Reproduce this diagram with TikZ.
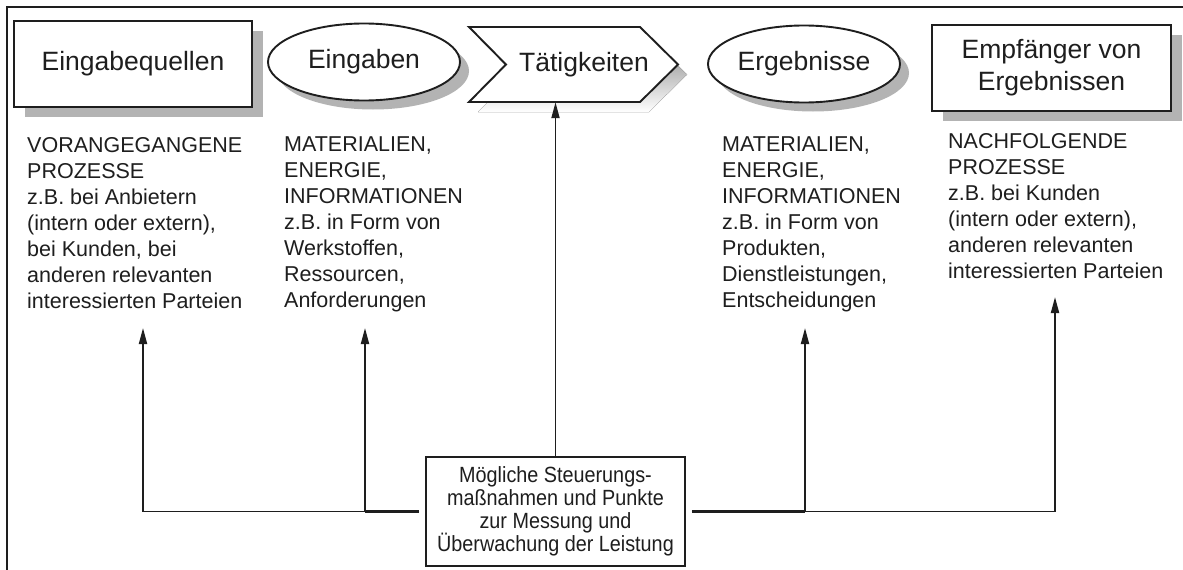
\documentclass[tikz,border=0pt]{standalone}
\usepackage{fontspec}
\setmainfont{Liberation Sans}
\newfontfamily\narrowsans[FakeStretch=0.9]{Liberation Sans}
\usetikzlibrary{shapes.geometric,shadows,arrows.meta}
\definecolor{ink}{HTML}{1E1E1E}
\definecolor{shade}{HTML}{B3B3B3}
\begin{document}
\begin{tikzpicture}[x=1pt,y=-1pt,
  every node/.style={text=ink},
  boxshape/.style={draw=ink, line width=1.9pt, fill=white, inner sep=0pt,
    general shadow={fill=shade, shadow xshift=11pt, shadow yshift=-10pt}},
  ovalshape/.style={ellipse, draw=ink, line width=1.9pt, fill=white, inner sep=0pt,
    minimum width=192pt, minimum height=77pt,
    general shadow={fill=shade, shadow xshift=9pt, shadow yshift=-9pt}},
  headfont/.style={font=\fontsize{26.5}{32}\selectfont},
  bodytext/.style={anchor=north west, inner sep=0pt, align=left,
    font=\fontsize{21.5}{26}\selectfont},
  conn/.style={draw=ink, line width=1.9pt},
  arr/.style={conn, -{Triangle[length=16pt,width=8pt]}},
]
\useasboundingbox (0,0) rectangle (1183,570);
\fill[white] (0,0) rectangle (1183,570);
% frame
\draw[ink, line width=2.2pt] (7,570) -- (7,7) -- (1183,7);

% process chain
\node[boxshape, headfont, minimum width=238pt, minimum height=86pt] (src) at (133,64) {Eingabequellen};
\node[ovalshape, headfont] (inp) at (364,62) {Eingaben};

\begin{scope}[shift={(9,10)}]
  \fill[shade] (469,27) -- (640,27) -- (678,64.5) -- (640,102) -- (469,102) -- (506,64.5) -- cycle;
\end{scope}
\draw[ink, line width=1.9pt, fill=white, line join=miter]
  (469,27) -- (640,27) -- (678,64.5) -- (640,102) -- (469,102) -- (506,64.5) -- cycle;
\node[headfont, minimum height=75pt, inner sep=0pt] (act) at (584,64.5) {Tätigkeiten};

\node[ovalshape, headfont] (out) at (804,64) {Ergebnisse};
\node[boxshape, headfont, minimum width=239pt, minimum height=86pt, align=center] (dst) at (1051.5,68) {Empfänger von\\Ergebnissen};

% descriptions
\node[bodytext] (srcnote) at (27,137) {VORANGEGANGENE\\PROZESSE\\z.B. bei Anbietern\\(intern oder extern),\\bei Kunden, bei\\anderen relevanten\\interessierten Parteien};
\node[bodytext] (inpnote) at (284,137) {MATERIALIEN,\\ENERGIE,\\INFORMATIONEN\\z.B. in Form von\\Werkstoffen,\\Ressourcen,\\Anforderungen};
\node[bodytext] (outnote) at (722,137) {MATERIALIEN,\\ENERGIE,\\INFORMATIONEN\\z.B. in Form von\\Produkten,\\Dienstleistungen,\\Entscheidungen};
\node[bodytext] (dstnote) at (948,133) {NACHFOLGENDE\\PROZESSE\\z.B. bei Kunden\\(intern oder extern),\\anderen relevanten\\interessierten Parteien};

% control points
\node[draw=ink, line width=1.9pt, fill=white, minimum width=259pt, minimum height=109pt,
  inner sep=0pt, align=center, font=\narrowsans\fontsize{22}{23}\selectfont]
  (ctrl) at (555.5,511.5) {Mögliche Steuerungs-\\maßnahmen und Punkte\\zur Messung und\\Überwachung der Leistung};

\coordinate (tip1) at (143,328);
\coordinate (tip2) at (365,328);
\coordinate (tip4) at (805,328);
\coordinate (tip5) at (1055,297);
\coordinate (lhook) at ([xshift=-6pt]ctrl.west);
\coordinate (rhook) at ([xshift=6pt]ctrl.east);

\draw[conn, line width=3.2pt] (lhook) -- (lhook -| tip2);
\draw[conn, line width=3.2pt] (rhook) -- (rhook -| tip4);
\draw[arr] (lhook) -| (tip1);
\draw[arr] (lhook) -| (tip2);
\draw[arr] (rhook) -| (tip4);
\draw[arr] (rhook) -| (tip5);
\draw[arr] (ctrl.north) -- (ctrl.north |- act.south);
\end{tikzpicture}
\end{document}
